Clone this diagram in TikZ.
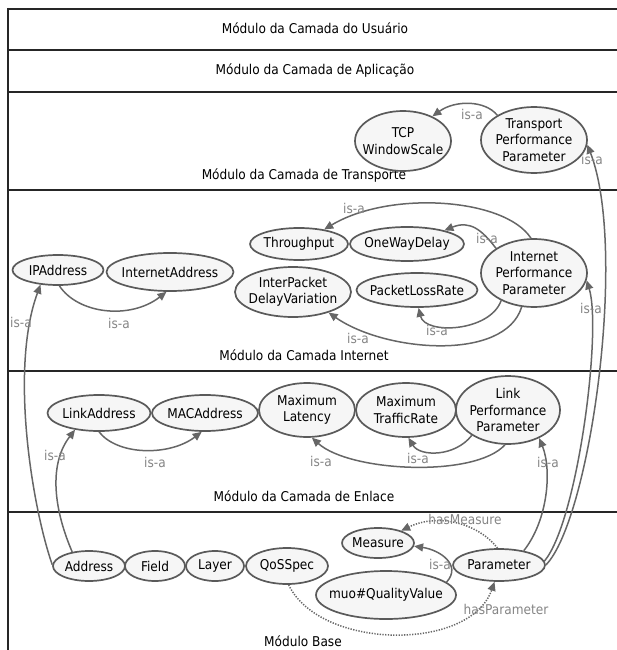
\documentclass[tikz,border=0pt]{standalone}
\usepackage{fontspec}
\IfFontExistsTF{DejaVu Sans Condensed}{\setmainfont{DejaVu Sans Condensed}}{\setmainfont{DejaVu Sans}[FakeStretch=0.9]}
\usetikzlibrary{shapes.geometric,arrows.meta}
\definecolor{edgegray}{HTML}{666666}
\definecolor{nodeline}{HTML}{5A5A5A}
\definecolor{labgray}{HTML}{858585}
\definecolor{nodefill}{HTML}{F6F6F6}
\tikzset{
  cls/.style={ellipse, draw=nodeline, line width=1.7pt, fill=nodefill, inner sep=0pt},
  txt/.style={align=center, inner sep=0pt, font=\fontsize{13.5}{16.5}\selectfont},
  isa/.style={draw=edgegray, line width=1.5pt, -{Triangle[length=9pt,width=8pt]}},
  prop/.style={draw=edgegray, line width=1.5pt, dash pattern=on 1.3pt off 1.4pt, -{Triangle[length=9pt,width=8pt]}},
  lab/.style={text=labgray, inner sep=0pt, font=\fontsize{13.5}{16}\selectfont},
  title/.style={inner sep=0pt, font=\fontsize{13.5}{16}\selectfont},
  band/.style={draw=black!85, line width=2pt}
}
\begin{document}
\begin{tikzpicture}[x=1pt,y=-1pt]
\useasboundingbox (0,0) rectangle (617,650);
% frame and bands
\draw[band] (8,9) -- (640,9);
\draw[band] (8,50) -- (640,50);
\draw[band] (8,92) -- (640,92);
\draw[band] (8,190) -- (640,190);
\draw[band] (8,371) -- (640,371);
\draw[band] (8,512) -- (640,512);
\draw[band] (8,8) -- (8,670);
% band titles
\node[title] (tuser) at (315,28) {Módulo da Camada do Usuário};
\node[title] (tapp) at (315,71) {Módulo da Camada de Aplicação};
\node[title] (ttrans) at (304,176) {Módulo da Camada de Transporte};
\node[title] (tinet) at (304,355) {Módulo da Camada Internet};
\node[title] (tlink) at (304,496) {Módulo da Camada de Enlace};
\node[title] (tbase) at (303,641) {Módulo Base};
% class ellipses (shapes)
\node[cls, minimum width=96pt, minimum height=60pt] (tcp) at (403,141) {};
\node[cls, minimum width=106pt, minimum height=66pt] (tpp) at (534,140) {};
\node[cls, minimum width=91pt, minimum height=30pt] (ipa) at (58,270) {};
\node[cls, minimum width=127pt, minimum height=38pt] (ina) at (170,272) {};
\node[cls, minimum width=98pt, minimum height=32pt] (thr) at (299,244) {};
\node[cls, minimum width=114pt, minimum height=34pt] (owd) at (407,244) {};
\node[cls, minimum width=116pt, minimum height=50pt] (ipdv) at (293,292) {};
\node[cls, minimum width=121pt, minimum height=34pt] (plr) at (417,290) {};
\node[cls, minimum width=106pt, minimum height=68pt] (ipp) at (534,273) {};
\node[cls, minimum width=103pt, minimum height=36pt] (la) at (99,413) {};
\node[cls, minimum width=106pt, minimum height=36pt] (mac) at (205,413) {};
\node[cls, minimum width=96pt, minimum height=54pt] (ml) at (307,410) {};
\node[cls, minimum width=100pt, minimum height=54pt] (mtr) at (406,410) {};
\node[cls, minimum width=104pt, minimum height=68pt] (lpp) at (508,410) {};
\node[cls, minimum width=72pt, minimum height=30pt] (addr) at (89,566) {};
\node[cls, minimum width=60pt, minimum height=30pt] (field) at (155,566) {};
\node[cls, minimum width=58pt, minimum height=30pt] (layer) at (215,566) {};
\node[cls, minimum width=82pt, minimum height=36pt] (qos) at (287,566) {};
\node[cls, minimum width=72pt, minimum height=30pt] (meas) at (378,543) {};
\node[cls, minimum width=140pt, minimum height=48pt] (muo) at (386,595) {};
% edges
\draw[isa] (tpp.146) .. controls (485,100) and (455,100) .. (tcp.40);
\draw[isa] (ipp.95) .. controls (505,198) and (390,190) .. (thr.30);
\draw[isa] (ipp.147) .. controls (482,230) and (470,220) .. (owd.20);
\draw[isa] (ipp.220) .. controls (490,332) and (425,335) .. (plr.275);
\draw[isa] (ipp.250) .. controls (505,362) and (385,352) .. (ipdv.330);
\draw[isa] (ipa.275) .. controls (78,314) and (130,320) .. (ina.260);
\draw[isa] (la.270) .. controls (118,456) and (170,456) .. (mac.260);
\draw[isa] (lpp.215) .. controls (455,457) and (420,457) .. (mtr.275);
\draw[isa] (lpp.265) .. controls (475,478) and (350,472) .. (ml.280);
\draw[isa] (addr.140) .. controls (52,505) and (50,462) .. (la.215);
\draw[isa] (addr.178) .. controls (33,510) and (9,370) .. (ipa.220);
\draw[isa] (muo.12) .. controls (462,565) and (440,550) .. (meas.355);
\node[lab] (l15) at (440,564) {is-a};
\node[cls, minimum width=92pt, minimum height=32pt] (param) at (499,565) {};
\draw[isa] (param.30) .. controls (548,520) and (552,470) .. (lpp.318);
\draw[isa] (param.5) .. controls (578,520) and (602,330) .. (ipp.352);
\draw[isa] (param.0) .. controls (590,520) and (628,250) .. (tpp.355);
\draw[prop] (param.95) .. controls (480,525) and (440,512) .. (meas.28);
\draw[prop] (qos.275) .. controls (320,650) and (470,652) .. (param.255);
% edge labels
\node[lab] (l1) at (472,114) {is-a};
\node[lab] (l2) at (354,208) {is-a};
\node[lab] (l3) at (487,238) {is-a};
\node[lab] (l4) at (437,330) {is-a};
\node[lab] (l5) at (358,338) {is-a};
\node[lab] (l6) at (119,323) {is-a};
\node[lab] (l7) at (155,462) {is-a};
\node[lab] (l8) at (418,458) {is-a};
\node[lab] (l9) at (321,461) {is-a};
\node[lab] (l10) at (55,455) {is-a};
\node[lab] (l11) at (21,322) {is-a};
\node[lab] (l12) at (548,462) {is-a};
\node[lab] (l13) at (591,308) {is-a};
\node[lab] (l14) at (592,159) {is-a};
\node[lab] (l16) at (465,519) {hasMeasure};
\node[lab] (l17) at (506,609) {hasParameter};
% class texts
\node[txt] at (tcp) {TCP\\WindowScale};
\node[txt] at (tpp) {Transport\\Performance\\Parameter};
\node[txt] at (ipa) {IPAddress};
\node[txt] at (ina) {InternetAddress};
\node[txt] at (thr) {Throughput};
\node[txt] at (owd) {OneWayDelay};
\node[txt] at (ipdv) {InterPacket\\DelayVariation};
\node[txt] at (plr) {PacketLossRate};
\node[txt] at (ipp) {Internet\\Performance\\Parameter};
\node[txt] at (la) {LinkAddress};
\node[txt] at (mac) {MACAddress};
\node[txt] at (ml) {Maximum\\Latency};
\node[txt] at (mtr) {Maximum\\TrafficRate};
\node[txt] at (lpp) {Link\\Performance\\Parameter};
\node[txt] at (addr) {Address};
\node[txt] at (field) {Field};
\node[txt] at (layer) {Layer};
\node[txt] at (qos) {QoSSpec};
\node[txt] at (meas) {Measure};
\node[txt] at (muo) {muo\#QualityValue};
\node[txt] at (param) {Parameter};
\end{tikzpicture}
\end{document}
